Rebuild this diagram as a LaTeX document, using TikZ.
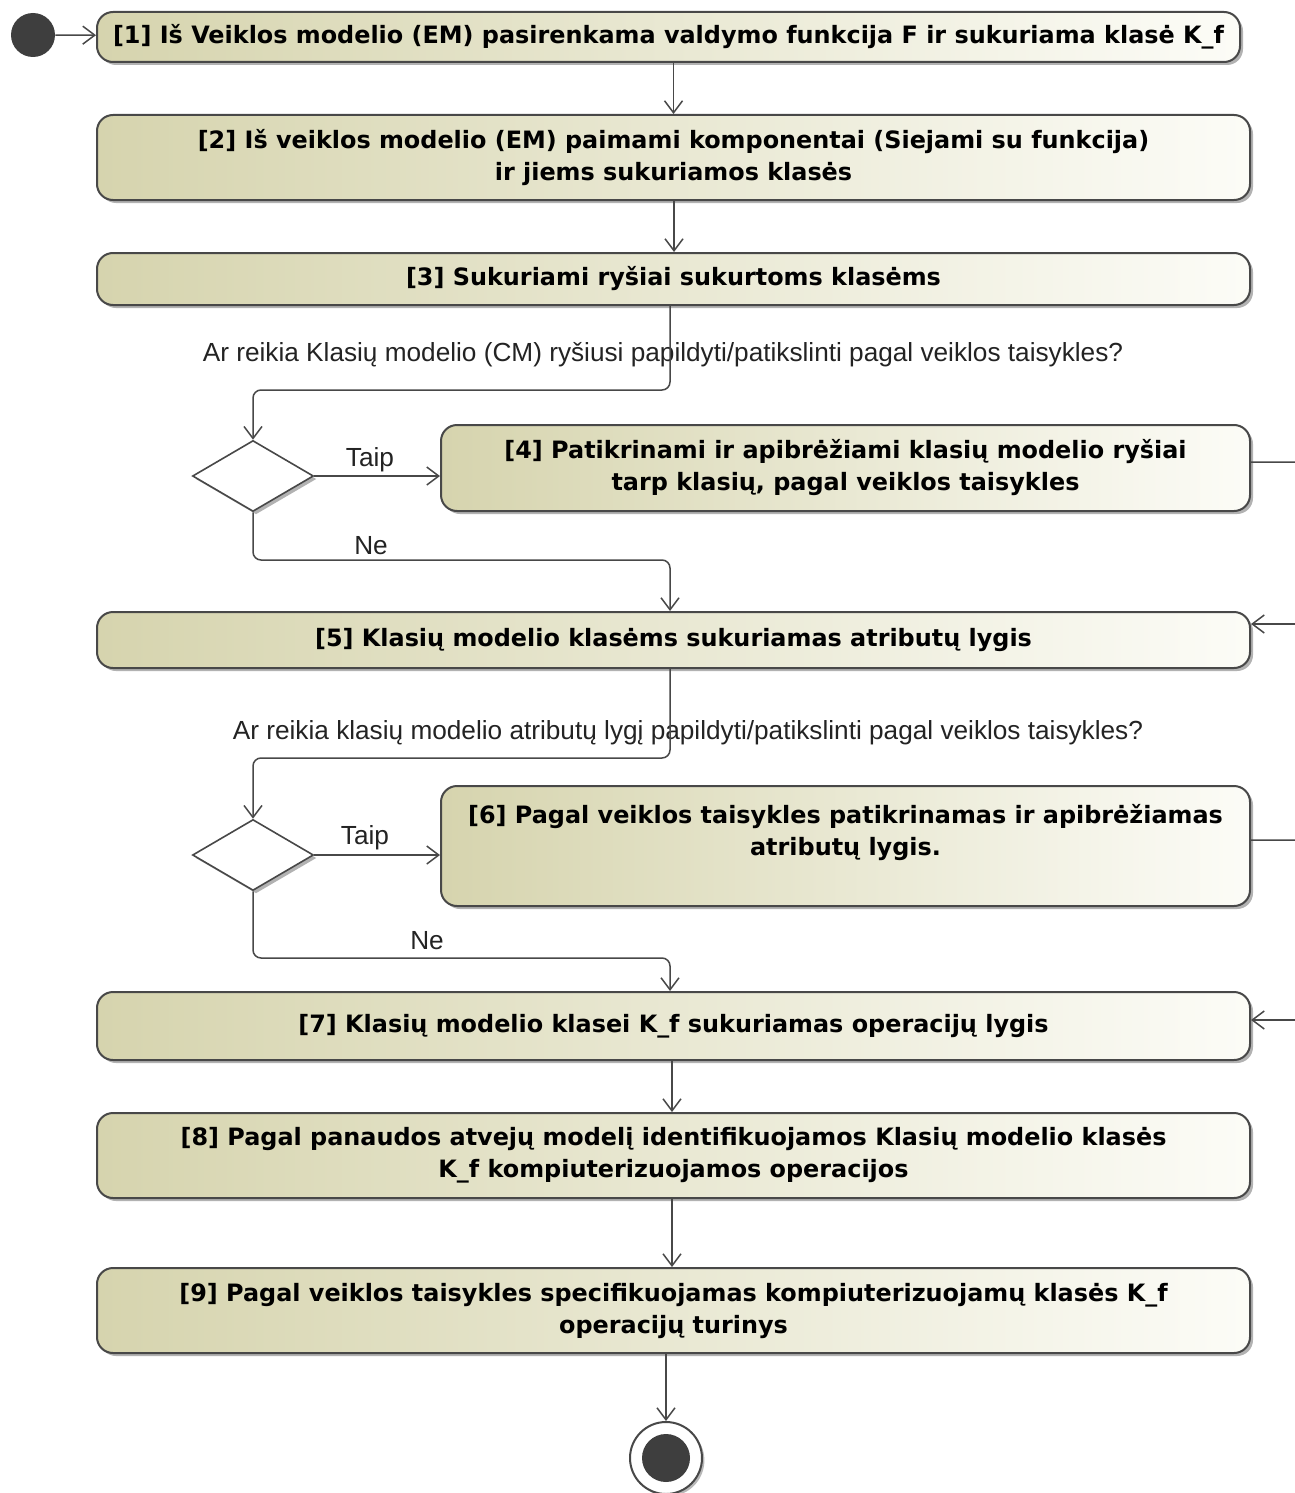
\documentclass[tikz,border=0pt]{standalone}
\usepackage{fontspec}
\setmainfont{Liberation Sans}
\newfontfamily\boxfont{DejaVu Sans}
\usetikzlibrary{shapes.geometric,arrows.meta,shadows,calc}

\definecolor{boxleft}{RGB}{214,212,174}
\definecolor{boxright}{RGB}{252,252,247}
\definecolor{edgegray}{RGB}{72,72,72}
\definecolor{dotgray}{RGB}{62,62,62}
\definecolor{labelgray}{RGB}{35,35,35}

\tikzset{
  act/.style={draw=edgegray, line width=1pt, rounded corners=8pt,
    left color=boxleft, right color=boxright, align=center,
    font=\boxfont\bfseries\fontsize{11.95}{16}\selectfont, inner sep=0pt,
    drop shadow={shadow xshift=1.5pt, shadow yshift=-1.5pt, fill=black!55, opacity=0.55}},
  decision/.style={diamond, draw=edgegray, line width=0.8pt, fill=white,
    minimum width=60.5pt, minimum height=35.5pt, inner sep=0pt,
    drop shadow={shadow xshift=1.5pt, shadow yshift=-1.5pt, fill=black!55, opacity=0.55}},
  flow/.style={draw=edgegray, line width=0.75pt, rounded corners=4pt,
    -{Straight Barb[length=6pt,width=9pt]}},
  plain/.style={draw=edgegray, line width=0.75pt, rounded corners=4pt},
  guard/.style={font=\fontsize{13.1}{15}\selectfont, text=labelgray, inner sep=0pt},
}

\begin{document}
\begin{tikzpicture}[x=0.5pt, y=-0.5pt]
  \clip (0,0) rectangle (1295,1493);
  \fill[white] (0,0) rectangle (1295,1493);

  % start and end
  \node[circle, fill=dotgray, minimum size=22pt, inner sep=0pt] (start) at (33,35) {};
  \node[circle, draw=edgegray, line width=1pt, fill=white, minimum size=36pt, inner sep=0pt,
        drop shadow={shadow xshift=1.2pt, shadow yshift=-1.2pt, fill=black!55, opacity=0.5}] (stop) at (666,1458) {};
  \node[circle, fill=dotgray, minimum size=24pt, inner sep=0pt] (stopdot) at (stop) {};

  % activities
  \node[act, minimum width=571.5pt, minimum height=25pt] (n1) at (668.5,37)
    {[1] Iš Veiklos modelio (EM) pasirenkama valdymo funkcija F ir sukuriama klasė K\_f};
  \node[act, minimum width=576.5pt, minimum height=42.5pt] (n2) at (673.5,157.5)
    {[2] Iš veiklos modelio (EM) paimami komponentai (Siejami su funkcija)\\ ir jiems sukuriamos klasės};
  \node[act, minimum width=576.5pt, minimum height=26pt] (n3) at (673.5,279)
    {[3] Sukuriami ryšiai sukurtoms klasėms};
  \node[act, minimum width=404.5pt, minimum height=43pt] (n4) at (845.5,468)
    {[4] Patikrinami ir apibrėžiami klasių modelio ryšiai\\ tarp klasių, pagal veiklos taisykles};
  \node[act, minimum width=576.5pt, minimum height=28pt] (n5) at (673.5,640)
    {[5] Klasių modelio klasėms sukuriamas atributų lygis};
  \node[act, minimum width=404.5pt, minimum height=60pt] (n6) at (845.5,846)
    {[6] Pagal veiklos taisykles patikrinamas ir apibrėžiamas\\ atributų lygis.\\ \mbox{}};
  \node[act, minimum width=576.5pt, minimum height=34pt] (n7) at (673.5,1026)
    {[7] Klasių modelio klasei K\_f sukuriamas operacijų lygis};
  \node[act, minimum width=576.5pt, minimum height=42.5pt] (n8) at (673.5,1155.5)
    {[8] Pagal panaudos atvejų modelį identifikuojamos Klasių modelio klasės\\ K\_f kompiuterizuojamos operacijos};
  \node[act, minimum width=576.5pt, minimum height=42.5pt] (n9) at (673.5,1310.5)
    {[9] Pagal veiklos taisykles specifikuojamas kompiuterizuojamų klasės K\_f\\ operacijų turinys};

  % decisions
  \node[decision] (d1) at (253,476) {};
  \node[decision] (d2) at (253,855) {};

  % guards
  \node[guard] (q1) at (663,355) {Ar reikia Klasių modelio (CM) ryšiusi papildyti/patikslinti pagal veiklos taisykles?};
  \node[guard] (q2) at (688,733) {Ar reikia klasių modelio atributų lygį papildyti/patikslinti pagal veiklos taisykles?};
  \node[guard] (t1) at (370,460) {Taip};
  \node[guard] (t2) at (365,838) {Taip};
  \node[guard] (ne1) at (371,546) {Ne};
  \node[guard] (ne2) at (427,941) {Ne};

  % vertical guide positions and bend points
  \coordinate (xa) at (674,0);
  \coordinate (xb) at (672,0);
  \coordinate (a1) at (670,390);
  \coordinate (a2) at (253,390);
  \coordinate (b1) at (253,560);
  \coordinate (b2) at (670,560);
  \coordinate (c1) at (670,758);
  \coordinate (c2) at (253,758);
  \coordinate (e1) at (253,958);
  \coordinate (e2) at (670,958);
  \coordinate (r1) at (1330,462);
  \coordinate (r2) at (1330,624);
  \coordinate (r3) at (1330,840);
  \coordinate (r4) at (1330,1020);

  % connectors
  \draw[flow] (start) -- (n1);
  \draw[flow] (n2.north |- n1.south) -- (n2.north);
  \draw[flow] (n2.south -| xa) -- (n3.north -| xa);
  \draw[flow] (n3.south -| a1) -- (a1) -- (a2) -- (d1.north);
  \draw[flow] (d1.east) -- (n4.west |- d1.east);
  \draw[flow] (d1.south) -- (b1) -- (b2) -- (n5.north -| b2);
  \draw[plain] (n4.east |- r1) -- (r1) -- (r2);
  \draw[flow] (r2) -- (n5.east |- r2);
  \draw[flow] (n5.south -| c1) -- (c1) -- (c2) -- (d2.north);
  \draw[flow] (d2.east) -- (n6.west |- d2.east);
  \draw[flow] (d2.south) -- (e1) -- (e2) -- (n7.north -| e2);
  \draw[plain] (n6.east |- r3) -- (r3) -- (r4);
  \draw[flow] (r4) -- (n7.east |- r4);
  \draw[flow] (n7.south -| xb) -- (n8.north -| xb);
  \draw[flow] (n8.south -| xb) -- (n9.north -| xb);
  \draw[flow] (n9.south -| stop) -- (stop.north);
\end{tikzpicture}
\end{document}
